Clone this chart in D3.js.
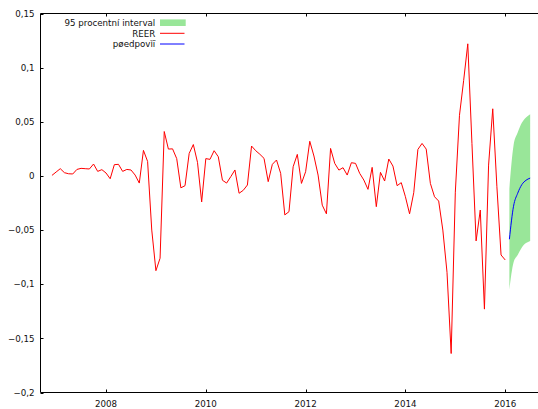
<!DOCTYPE html>
<html><head><meta charset="utf-8">
<script src="https://cdn.jsdelivr.net/npm/d3@7/dist/d3.min.js"></script>
<style>
html,body{margin:0;padding:0;background:#fff;}
svg{display:block;}
text{font-family:"DejaVu Sans",sans-serif;font-size:8.7px;fill:#111;}
</style></head>
<body>
<script>
// Monthly REER changes, 2006:12 .. 2016:01
const startYear = 2006, startMonth = 12;
const reer = [
 0.0005,0.0036,0.0067,0.003,0.002,0.0018,0.006,0.007,0.0067,0.0064,0.011,0.0042,
 0.0058,0.0027,-0.0026,0.0104,0.0107,0.0042,0.006,0.0055,0.0008,-0.0066,0.0236,0.0134,
 -0.05,-0.0875,-0.076,0.041,0.0248,0.025,0.016,-0.011,-0.009,0.0208,0.029,0.0125,
 -0.024,0.016,0.0153,0.0233,0.0177,-0.004,-0.0066,-0.0007,0.0055,-0.016,-0.0133,-0.0084,
 0.0276,0.0233,0.02,0.0162,-0.0053,0.0107,0.0147,0.0024,-0.036,-0.033,0.0085,0.0199,
 -0.0069,0.0039,0.032,0.0184,0.0008,-0.027,-0.035,0.0254,0.0116,0.0054,0.0076,0.0008,
 0.0122,0.0116,0.0024,-0.0038,-0.0124,0.0079,-0.0284,0.0033,-0.0047,0.0156,0.0091,-0.009,
 -0.0062,-0.0192,-0.035,-0.0155,0.0245,0.030,0.0248,-0.0069,-0.0192,-0.0232,-0.05,-0.089,
 -0.164,-0.015,0.056,0.088,0.122,0.03,-0.06,-0.0315,-0.123,0.01,0.062,-0.01,
 -0.073,-0.0776
];
// Forecast 2016:02 .. 2016:07
const fcStartYear = 2016, fcStartMonth = 2;
const forecast = [-0.0585,-0.028,-0.016,-0.008,-0.004,-0.002];
const lower95  = [-0.105,-0.080,-0.073,-0.066,-0.062,-0.060];
const upper95  = [-0.012, 0.028, 0.040, 0.049, 0.054, 0.057];

const xTicks = [2008,2010,2012,2014,2016];
const yTicks = [-0.2,-0.15,-0.1,-0.05,0,0.05,0.1,0.15];
const legendLabels = ["95 procentní interval","REER","pøedpovìï"];

const W = 538, H = 409;
const L = 40.5, R = 539, T = 13.5, B = 392.5;

const toT = (y,m,i) => y + (m - 1 + i)/12;

const x = d3.scaleLinear().domain([2006.687, 2016.677]).range([L, R]);
const y = d3.scaleLinear().domain([-0.2, 0.15]).range([B, T]);

const svg = d3.select("body").append("svg").attr("width",W).attr("height",H);

// band
const fc = forecast.map((v,i)=>({t:toT(fcStartYear,fcStartMonth,i), v, lo:lower95[i], hi:upper95[i]}));
svg.append("path").datum(fc)
  .attr("d", d3.area().x(d=>x(d.t)).y0(d=>y(d.lo)).y1(d=>y(d.hi)).curve(d3.curveMonotoneX))
  .attr("fill","#99e699");

// REER line
const rd = reer.map((v,i)=>({t:toT(startYear,startMonth,i), v}));
svg.append("path").datum(rd)
  .attr("d", d3.line().x(d=>x(d.t)).y(d=>y(d.v)))
  .attr("fill","none").attr("stroke","#ff0000").attr("stroke-width",1);

// forecast line
svg.append("path").datum(fc)
  .attr("d", d3.line().x(d=>x(d.t)).y(d=>y(d.v)).curve(d3.curveMonotoneX))
  .attr("fill","none").attr("stroke","#0000ff").attr("stroke-width",1);

// frame
const frame = svg.append("g").attr("stroke","#000").attr("stroke-width",1).attr("fill","none");
frame.append("line").attr("x1",L).attr("x2",R).attr("y1",T).attr("y2",T);
frame.append("line").attr("x1",L).attr("x2",R).attr("y1",B).attr("y2",B);
frame.append("line").attr("x1",L).attr("x2",L).attr("y1",T).attr("y2",B);

// y ticks
const fmt = v => (Math.abs(v)<1e-9 ? "0" : d3.format("")(+v.toFixed(2)).replace(".",","));
yTicks.forEach(v=>{
  const yy = Math.round(y(v))+0.5;
  svg.append("line").attr("x1",L).attr("x2",L+3).attr("y1",yy).attr("y2",yy).attr("stroke","#000");
  svg.append("text").attr("x",34.5).attr("y",y(v)+3.2).attr("text-anchor","end").text(fmt(v));
});
// x ticks
xTicks.forEach(v=>{
  const xx = Math.round(x(v))+0.5;
  svg.append("line").attr("x1",xx).attr("x2",xx).attr("y1",B).attr("y2",B-3).attr("stroke","#000");
  svg.append("line").attr("x1",xx).attr("x2",xx).attr("y1",T).attr("y2",T+3).attr("stroke","#000");
  svg.append("text").attr("x",x(v)).attr("y",407.3).attr("text-anchor","middle").text(v);
});

// legend
const ly = [22.7, 33.3, 44];
legendLabels.forEach((lab,i)=>{
  svg.append("text").attr("x",155.3).attr("y",ly[i]+3.2).attr("text-anchor","end").text(lab);
});
svg.append("rect").attr("x",160).attr("y",ly[0]-3.3).attr("width",25.7).attr("height",6.6).attr("fill","#99e699");
svg.append("line").attr("x1",160).attr("x2",184.5).attr("y1",ly[1]).attr("y2",ly[1]).attr("stroke","#ff0000");
svg.append("line").attr("x1",160).attr("x2",184.5).attr("y1",ly[2]).attr("y2",ly[2]).attr("stroke","#0000ff");
</script>
</body></html>
